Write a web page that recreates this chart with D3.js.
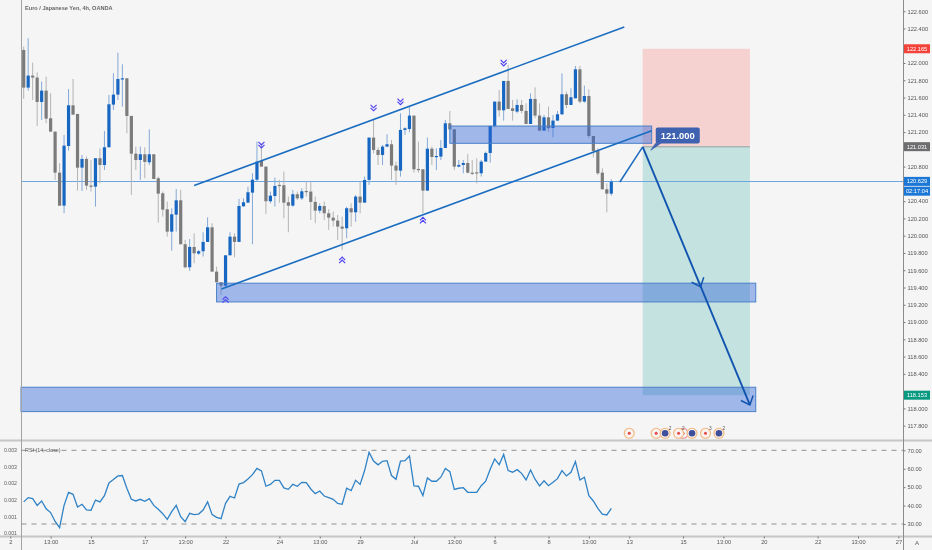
<!DOCTYPE html>
<html><head><meta charset="utf-8">
<script src="https://cdn.jsdelivr.net/npm/d3@7"></script>
<style>
html,body{margin:0;padding:0;background:#f5f5f5;overflow:hidden}
svg{display:block;font-family:"Liberation Sans",Arial,sans-serif;filter:blur(0.3px)}
.ax text{fill:#555;font-size:5.7px;font-family:"Liberation Sans",Arial,sans-serif}
.ax line{stroke:#777}
.ax path{display:none}
</style></head><body>
<svg id="c" width="932" height="550"></svg>
<script>
const title="Euro / Japanese Yen, 4h, OANDA";
const rsiTitle="RSI (14, close)";
const opens=[122.151,121.715,121.854,121.831,121.549,121.680,121.360,121.205,120.730,120.348,121.039,121.510,121.410,120.788,120.889,120.580,120.568,120.897,120.819,121.024,121.518,121.634,121.815,121.823,121.387,120.950,120.877,120.943,120.850,120.943,120.665,120.491,120.306,120.047,120.244,120.410,119.901,119.634,119.870,119.793,119.820,119.928,120.097,119.584,119.461,119.422,119.773,119.989,119.928,120.340,120.383,120.499,120.649,120.866,120.800,120.399,120.460,120.588,120.584,120.387,120.348,120.480,120.433,120.518,120.511,120.391,120.290,120.344,120.260,120.209,120.175,120.105,120.086,120.318,120.271,120.453,120.383,120.646,121.136,120.993,120.935,121.032,121.059,120.812,120.754,121.225,121.236,121.391,120.773,120.769,120.522,121.008,120.916,120.916,121.016,121.302,121.232,120.800,120.819,120.842,120.730,120.734,120.723,120.858,120.958,121.271,121.553,121.452,121.792,121.475,121.437,121.514,121.445,121.294,121.584,121.391,121.217,121.371,121.248,121.333,121.406,121.638,121.514,121.591,121.927,121.553,121.618,121.155,120.981,120.730,120.538,120.487];
const highs=[122.190,122.286,122.004,121.892,121.784,121.842,121.649,121.205,120.839,121.167,121.699,121.815,121.410,120.935,120.916,120.877,120.897,121.012,121.213,121.630,121.881,122.120,121.985,121.823,121.387,121.032,121.032,121.024,121.232,120.943,120.684,120.511,120.395,120.318,120.541,120.530,119.951,119.962,120.028,119.835,120.040,120.213,120.144,119.642,119.461,119.773,120.040,120.028,120.426,120.433,120.568,120.723,121.090,121.070,120.800,120.511,120.673,120.646,120.742,120.453,120.530,120.511,120.549,120.626,120.626,120.453,120.375,120.395,120.306,120.279,120.240,120.221,120.337,120.375,120.472,120.626,120.684,121.136,121.340,121.024,121.051,121.174,121.109,120.858,121.418,121.255,121.487,121.391,121.090,120.769,121.136,121.032,121.012,121.109,121.340,121.445,121.232,120.877,120.877,120.947,120.877,120.897,120.877,120.974,121.271,121.553,121.688,121.792,121.977,121.572,121.580,121.572,121.533,121.649,121.719,121.533,121.398,121.495,121.398,121.445,121.881,121.669,121.707,121.966,121.966,121.738,121.696,121.155,121.012,120.781,120.607,120.653];
const lows=[121.584,121.680,121.572,121.271,121.340,121.302,121.205,120.646,120.348,120.260,120.985,121.402,120.522,120.518,120.530,120.511,120.337,120.607,120.761,121.024,121.456,121.572,121.495,121.186,120.472,120.761,120.646,120.665,120.819,120.657,120.151,120.221,119.989,119.827,120.047,119.901,119.623,119.592,119.681,119.777,119.758,119.928,119.584,119.461,119.314,119.410,119.773,119.750,119.928,120.337,120.383,119.901,120.626,120.800,120.252,120.375,120.337,120.383,120.202,120.040,120.337,120.414,120.414,120.453,120.182,120.144,120.260,120.182,120.067,120.105,119.951,119.835,119.970,120.105,120.163,120.260,120.383,120.588,120.954,120.819,120.819,121.024,120.646,120.588,120.684,121.167,121.198,120.730,120.730,120.260,120.522,120.819,120.761,120.877,121.016,121.225,120.761,120.792,120.723,120.723,120.703,120.607,120.684,120.858,120.846,121.255,121.379,121.333,121.468,121.333,121.418,121.418,121.294,121.294,121.360,121.217,121.217,121.205,121.140,121.333,121.398,121.476,121.514,121.591,121.533,121.541,121.128,120.908,120.703,120.530,120.271,120.464];
const closes=[121.715,121.854,121.831,121.549,121.680,121.356,121.205,120.730,120.348,121.043,121.510,121.402,120.788,120.889,120.580,120.568,120.897,120.819,121.024,121.522,121.634,121.815,121.823,121.387,120.950,120.877,120.943,120.854,120.943,120.657,120.487,120.302,120.047,120.248,120.410,119.901,119.634,119.870,119.796,119.820,119.928,120.097,119.584,119.461,119.422,119.773,119.989,119.928,120.344,120.387,120.503,120.649,120.858,120.800,120.399,120.464,120.576,120.576,120.383,120.348,120.480,120.433,120.514,120.511,120.391,120.290,120.344,120.260,120.209,120.175,120.105,120.082,120.318,120.271,120.453,120.383,120.646,121.136,120.993,120.935,121.032,121.059,120.812,120.754,121.225,121.244,121.391,120.769,120.765,120.522,121.008,120.912,120.923,121.016,121.302,121.232,120.800,120.819,120.842,120.730,120.723,120.723,120.858,120.958,121.271,121.553,121.452,121.792,121.468,121.445,121.514,121.445,121.294,121.584,121.391,121.217,121.371,121.244,121.333,121.406,121.638,121.514,121.603,121.927,121.553,121.618,121.155,120.981,120.723,120.538,120.487,120.626];
const rsi=[42.0,44.3,43.8,40.1,42.5,38.3,36.2,31.4,28.0,40.1,47.2,46.1,39.2,40.7,37.6,37.4,43.0,42.0,45.4,52.3,54.1,56.1,56.3,49.4,43.4,42.5,43.4,42.3,43.8,40.1,38.0,35.6,32.5,36.7,40.1,34.0,31.3,35.8,35.1,35.4,37.6,42.0,35.1,33.6,32.9,41.2,45.0,44.1,51.7,52.5,54.4,56.8,60.2,58.8,50.5,51.5,53.7,53.7,49.6,48.8,51.5,50.5,52.6,52.5,49.0,46.5,47.9,45.2,44.3,43.4,41.2,40.7,49.4,48.1,53.7,51.5,59.0,68.9,64.2,62.1,64.0,64.4,56.3,54.3,64.2,64.4,66.9,50.7,50.5,45.4,55.0,53.2,53.2,55.4,60.2,58.4,48.8,49.4,49.7,47.2,47.2,47.2,50.8,53.2,59.7,65.3,62.2,67.7,59.0,58.1,59.5,57.5,53.9,59.3,54.3,50.7,53.5,50.8,52.6,54.6,59.0,56.1,58.1,63.9,53.9,55.4,45.4,42.5,38.5,35.4,34.9,38.5];
const priceTicks=[122.6,122.4,122.0,121.8,121.6,121.4,121.2,120.8,120.4,120.2,120.0,119.8,119.6,119.4,119.2,119.0,118.8,118.6,118.4,118.0,117.8];
const rsiTicks=[70,60,50,40,30];
const rsiBands=[70,30];
const leftTicks=["0.003","0.003","0.002","0.002","0.001","0.001"];
const leftTickLevels=[70,61,52,43,34,25];
const timeIdx=[-3,6,15,27,36,45,57,66,75,87,96,105,117,126,135,147,156,165,177,186,195];
const timeLabels=["2","13:00","15","17","13:00","22","24","13:00","29","Jul","13:00","6","8","13:00","13","15","13:00","20","22","13:00","27"];
const lastPrice=120.629, stopPrice=122.165, entryPrice=121.031, targetPrice=118.153;
const channelTop=[[38,120.58],[133.9,122.417]];
const channelBottom=[[44.1,119.383],[140,121.216]];
const zones=[[95,140,121.27,121.07],[43,163.2,119.45,119.233],[-0.6,163.2,118.245,117.963]];
const positionSpan=[138,161.9];
const leadIn=[[132.9,120.622],[138,121.028]];
const tradePath=[[138,121.028],[161.9,118.04]];
const midArrow=[150.9,119.41];
const calloutTip=[139.8,120.99];
const calloutText="121.000";
const chevDown=[[53,121.04],[78,121.47],[84,121.54],[107,121.99]];
const chevUp=[[45,119.27],[71,119.73],[89,120.19]];
const events=[[135,"#e5484d",""],[141,"#e5484d",""],[143,"#3f4f9a","2"],[147,"#e5484d",""],[146,"#e5484d","2"],[149,"#3f4f9a",""],[152,"#e5484d","3"],[155,"#3f4f9a","2"]];
const countdown="02:17:04";

const W=932,H=550,left=21.5,right=903.5,paneBottom=440.5,timeTop=536.5;
const x=d3.scaleLinear([0,131],[23.7,611.3]);
const y=d3.scaleLinear([122,118],[63,408.4]);
const yr=d3.scaleLinear([70,30],[450.3,524]);
const svg=d3.select("#c");
const bg="#f5f5f5";
svg.append("rect").attr("width",W).attr("height",H).attr("fill",bg);

// position boxes
const g=svg.append("g");
const px0=x(positionSpan[0]),px1=x(positionSpan[1]);
g.append("rect").attr("x",px0).attr("width",px1-px0).attr("y",y(stopPrice)).attr("height",y(entryPrice)-y(stopPrice)).attr("fill","#f44336").attr("opacity",.2);
g.append("rect").attr("x",px0).attr("width",px1-px0).attr("y",y(entryPrice)).attr("height",y(targetPrice)-y(entryPrice)).attr("fill","#009688").attr("opacity",.2);
g.append("line").attr("x1",px0).attr("x2",px1).attr("y1",y(entryPrice)).attr("y2",y(entryPrice)).attr("stroke","#aab4b4").attr("stroke-width",1.5);

// last price line
g.append("line").attr("x1",left).attr("x2",right).attr("y1",Math.round(y(lastPrice))+.5).attr("y2",Math.round(y(lastPrice))+.5).attr("stroke","#6ea6e0").attr("stroke-width",1);

// candles
const idx=d3.range(opens.length);
const c=g.append("g");
c.selectAll(".w").data(idx).join("line").attr("x1",i=>x(i)).attr("x2",i=>x(i))
 .attr("y1",i=>y(highs[i])).attr("y2",i=>y(lows[i]))
 .attr("stroke",i=>closes[i]>=opens[i]?"#84a9d6":"#b4b4b4").attr("stroke-width",1);
c.selectAll(".b").data(idx).join("rect").attr("x",i=>x(i)-1.6).attr("width",3.2)
 .attr("y",i=>y(Math.max(opens[i],closes[i])))
 .attr("height",i=>Math.max(1.2,Math.abs(y(opens[i])-y(closes[i]))))
 .attr("fill",i=>closes[i]>=opens[i]?"#1766c2":"#7b7b7b");

// zones
g.selectAll(".z").data(zones).join("rect")
 .attr("x",d=>x(d[0])).attr("width",d=>x(d[1])-x(d[0]))
 .attr("y",d=>y(d[2])).attr("height",d=>y(d[3])-y(d[2]))
 .attr("fill","#2962d8").attr("fill-opacity",.42).attr("stroke","#4a80c8").attr("stroke-width",1);

// chevrons
function chev(cx,cy,dir){const s=dir;return `M${cx-3},${cy-s*3}L${cx},${cy}L${cx+3},${cy-s*3}M${cx-3},${cy}L${cx},${cy+s*3}L${cx+3},${cy}`;}
g.selectAll(".cd").data(chevDown).join("path").attr("d",d=>chev(x(d[0]),y(d[1])-1,1)).attr("fill","none").attr("stroke","#4a3cf0").attr("stroke-width",1.1);
g.selectAll(".cu").data(chevUp).join("path").attr("d",d=>chev(x(d[0]),y(d[1])+1,-1)).attr("fill","none").attr("stroke","#4a3cf0").attr("stroke-width",1.1);

// lines
const line=d3.line().x(d=>x(d[0])).y(d=>y(d[1]));
[channelTop,channelBottom].forEach(d=>g.append("path").attr("d",line(d)).attr("fill","none").attr("stroke","#1a6cc0").attr("stroke-width",1.6));
g.append("path").attr("d",line(leadIn)).attr("fill","none").attr("stroke","#1a6cc0").attr("stroke-width",1.5);
g.append("path").attr("d",line(tradePath)).attr("fill","none").attr("stroke","#1255b0").attr("stroke-width",1.9);
// open arrow heads
const dx=x(tradePath[1][0])-x(tradePath[0][0]),dy=y(tradePath[1][1])-y(tradePath[0][1]),a=Math.atan2(dy,dx);
function head(px,py){const L=10,sp=.72;return `M${px-L*Math.cos(a-sp)},${py-L*Math.sin(a-sp)}L${px},${py}L${px-L*Math.cos(a+sp)},${py-L*Math.sin(a+sp)}`;}
g.append("path").attr("d",head(x(midArrow[0]),y(midArrow[1]))).attr("fill","none").attr("stroke","#1255b0").attr("stroke-width",1.5);
g.append("path").attr("d",head(x(tradePath[1][0]),y(tradePath[1][1]))).attr("fill","none").attr("stroke","#1255b0").attr("stroke-width",1.5);

// callout
const tipX=x(calloutTip[0]),tipY=y(calloutTip[1]);
g.append("path").attr("d",`M${tipX},${tipY}L${tipX+5},${tipY-7}L${tipX+10},${tipY-7}Z`).attr("fill","#3e62b0").attr("stroke","#3e62b0").attr("stroke-width",.8);
g.append("rect").attr("x",tipX+5).attr("y",tipY-22.7).attr("width",44).attr("height",16).attr("rx",2).attr("fill","#3e62b0");
g.append("text").attr("x",tipX+27).attr("y",tipY-11).attr("text-anchor","middle").attr("fill","#fff").attr("font-size",9.4).attr("font-weight","bold").text(calloutText);

// events
const ey=433.3;
const ev=g.selectAll(".e").data(events).join("g");
ev.append("circle").attr("cx",d=>x(d[0])).attr("cy",ey).attr("r",5).attr("fill",d=>d[0]==147?"none":"#f8f3ee").attr("stroke",d=>d[0]==147?"#ec8a8a":"#f3b47a").attr("stroke-width",1.1);
ev.append("circle").attr("cx",d=>x(d[0])).attr("cy",ey).attr("r",d=>d[1]=="#e5484d"?1.5:3.3).attr("fill",d=>d[1]);
ev.append("text").attr("x",d=>x(d[0])+3.5).attr("y",ey-3).attr("font-size",4.8).attr("fill","#555").text(d=>d[2]);

// frame
svg.append("line").attr("x1",0).attr("x2",W).attr("y1",paneBottom).attr("y2",paneBottom).attr("stroke","#c6c6c6").attr("stroke-width",2);
svg.append("line").attr("x1",0).attr("x2",W).attr("y1",timeTop).attr("y2",timeTop).attr("stroke","#c6c6c6").attr("stroke-width",2);
svg.append("line").attr("x1",left).attr("x2",left).attr("y1",0).attr("y2",H).attr("stroke","#a2a2a2").attr("stroke-width",1);
svg.append("line").attr("x1",right).attr("x2",right).attr("y1",0).attr("y2",H).attr("stroke","#8c8c8c").attr("stroke-width",1);

// rsi
svg.selectAll(".bd").data(rsiBands).join("line").attr("x1",left).attr("x2",right).attr("y1",d=>yr(d)).attr("y2",d=>yr(d)).attr("stroke","#909090").attr("stroke-width",1).attr("stroke-dasharray","5,5");
svg.append("path").attr("d",d3.line().x((d,i)=>x(i)).y(d=>yr(d))(rsi)).attr("fill","none").attr("stroke","#2f82c6").attr("stroke-width",1.3);
svg.append("text").attr("x",25).attr("y",452).attr("font-size",5.4).attr("fill","#5c5c5c").text(rsiTitle);

// title
svg.append("text").attr("x",25).attr("y",10).attr("font-size",5.6).attr("font-weight","bold").attr("fill","#666").text(title);

// axes
svg.append("g").attr("class","ax").attr("transform",`translate(${right},0)`)
 .call(d3.axisRight(y).tickValues(priceTicks).tickFormat(d3.format(".3f")).tickSize(2).tickPadding(2));
svg.append("g").attr("class","ax").attr("transform",`translate(${right},0)`)
 .call(d3.axisRight(yr).tickValues(rsiTicks).tickFormat(d3.format(".2f")).tickSize(2).tickPadding(2));
svg.append("g").attr("class","ax").attr("transform",`translate(0,${timeTop})`)
 .call(d3.axisBottom(x).tickValues(timeIdx).tickFormat((d,i)=>timeLabels[i]).tickSize(2).tickPadding(1.5));
svg.selectAll(".lft").data(leftTicks).join("text").attr("x",17).attr("y",(d,i)=>yr(leftTickLevels[i])+2).attr("text-anchor","end").attr("font-size",5.2).attr("fill","#5c5c5c").text(d=>d);
svg.append("text").attr("x",917).attr("y",545).attr("text-anchor","middle").attr("font-size",6).attr("fill","#5c5c5c").text("A");

// price tags
function tag(v,color,txt,offs){
  const yy=y(v)+(offs||0);
  svg.append("rect").attr("x",right+.5).attr("y",yy-4.5).attr("width",26).attr("height",9).attr("fill",color);
  svg.append("text").attr("x",right+13.5).attr("y",yy+2).attr("text-anchor","middle").attr("font-size",5.7).attr("fill","#fff").text(txt);
}
tag(stopPrice,"#f4433a",d3.format(".3f")(stopPrice));
tag(entryPrice,"#6d6d70",d3.format(".3f")(entryPrice));
tag(lastPrice,"#1b78d6",d3.format(".3f")(lastPrice));
tag(lastPrice,"#1b78d6",countdown,9.8);
tag(targetPrice,"#089981",d3.format(".3f")(targetPrice));
</script>
</body></html>
